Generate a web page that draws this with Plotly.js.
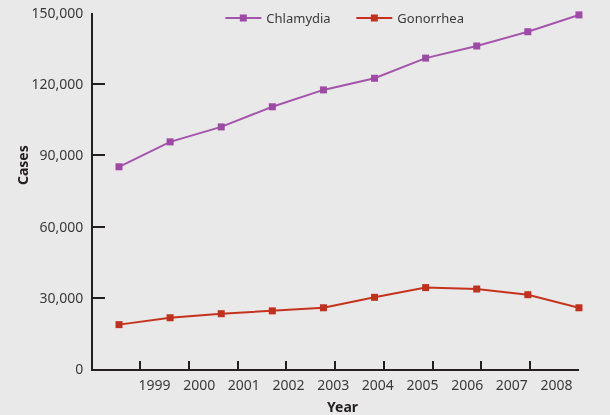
<!DOCTYPE html>
<html>
<head>
<meta charset="utf-8">
<script src="https://cdn.plot.ly/plotly-3.0.1.min.js"></script>
<style>html,body{margin:0;padding:0;background:#e8e9e8;}#chart{width:610px;height:415px;}</style>
</head>
<body>
<div id="chart"></div>
<script>
var years = [1999, 2000, 2001, 2002, 2003, 2004, 2005, 2006, 2007, 2008];
var yearLabels = ["1999", "2000", "2001", "2002", "2003", "2004", "2005", "2006", "2007", "2008"];
var chlamydia = [85200, 95700, 102000, 110500, 117600, 122500, 131000, 136100, 142100, 149200];
var gonorrhea = [18700, 21600, 23300, 24500, 25800, 30200, 34300, 33700, 31300, 25800];
var yTicks = [0, 30000, 60000, 90000, 120000, 150000];

var ink = '#231f20';
var textCol = '#3a3a3a';
var font = 'Noto Sans, Open Sans, sans-serif';

var traces = [
  {x: years, y: chlamydia, name: 'Chlamydia', type: 'scatter', mode: 'lines+markers',
   line: {color: '#a455ab', width: 2}, marker: {symbol: 'square', size: 7, color: '#9c4aa3'},
   cliponaxis: false, xaxis: 'x', yaxis: 'y'},
  {x: years, y: gonorrhea, name: 'Gonorrhea', type: 'scatter', mode: 'lines+markers',
   line: {color: '#c5331f', width: 2}, marker: {symbol: 'square', size: 7, color: '#c1301c'},
   cliponaxis: false, xaxis: 'x', yaxis: 'y'},
  {x: years, y: chlamydia, type: 'scatter', mode: 'markers', opacity: 0, showlegend: false,
   hoverinfo: 'skip', xaxis: 'x2', yaxis: 'y'},
  {x: years, y: chlamydia, type: 'scatter', mode: 'markers', opacity: 0, showlegend: false,
   hoverinfo: 'skip', xaxis: 'x3', yaxis: 'y'}
];

var layout = {
  width: 610, height: 415,
  paper_bgcolor: '#e8e9e8', plot_bgcolor: '#e8e9e8',
  margin: {l: 93, r: 31, t: 13, b: 46, autoexpand: false},
  font: {family: font, size: 14, color: textCol},
  showlegend: true,
  legend: {orientation: 'h', x: 0.262, xanchor: 'left', y: 0.986, yanchor: 'middle',
           bgcolor: 'rgba(0,0,0,0)', font: {size: 13, color: textCol},
           itemwidth: 36, entrywidth: 80, entrywidthmode: 'pixels'},
  xaxis: {range: [1998.491, 2008.001], showgrid: false, zeroline: false, showline: false,
          showticklabels: false, ticks: ''},
  xaxis2: {overlaying: 'x', anchor: 'y', side: 'bottom', range: [1998.03, 2008.006],
           tickvals: years, showticklabels: false, ticks: 'inside', ticklen: 8, tickwidth: 2,
           tickcolor: ink, showline: true, linecolor: ink, linewidth: 2, showgrid: false, zeroline: false},
  xaxis3: {overlaying: 'x', anchor: 'y', side: 'bottom', range: [1997.623, 2008.503],
           tickvals: years, ticktext: yearLabels, ticks: '', showline: false, showgrid: false,
           zeroline: false, tickfont: {size: 14, color: textCol}, ticklabelstandoff: 6},
  yaxis: {range: [0, 150000], tickvals: yTicks, tickformat: ',d', ticks: 'inside', ticklen: 12,
          tickwidth: 2, tickcolor: ink, showline: true, linecolor: ink, linewidth: 2,
          showgrid: false, zeroline: false, tickfont: {size: 14, color: textCol}, ticklabelstandoff: 5},
  annotations: [
    {text: '<b>Year</b>', xref: 'paper', yref: 'paper', x: 0.514, y: -0.104,
     xanchor: 'center', yanchor: 'middle', showarrow: false, font: {size: 14, color: ink}},
    {text: '<b>Cases</b>', xref: 'paper', yref: 'paper', x: -0.146, y: 0.573, textangle: -90,
     xanchor: 'center', yanchor: 'middle', showarrow: false, font: {size: 14, color: ink}}
  ]
};

Plotly.newPlot('chart', traces, layout, {displayModeBar: false, staticPlot: true});
</script>
</body>
</html>
